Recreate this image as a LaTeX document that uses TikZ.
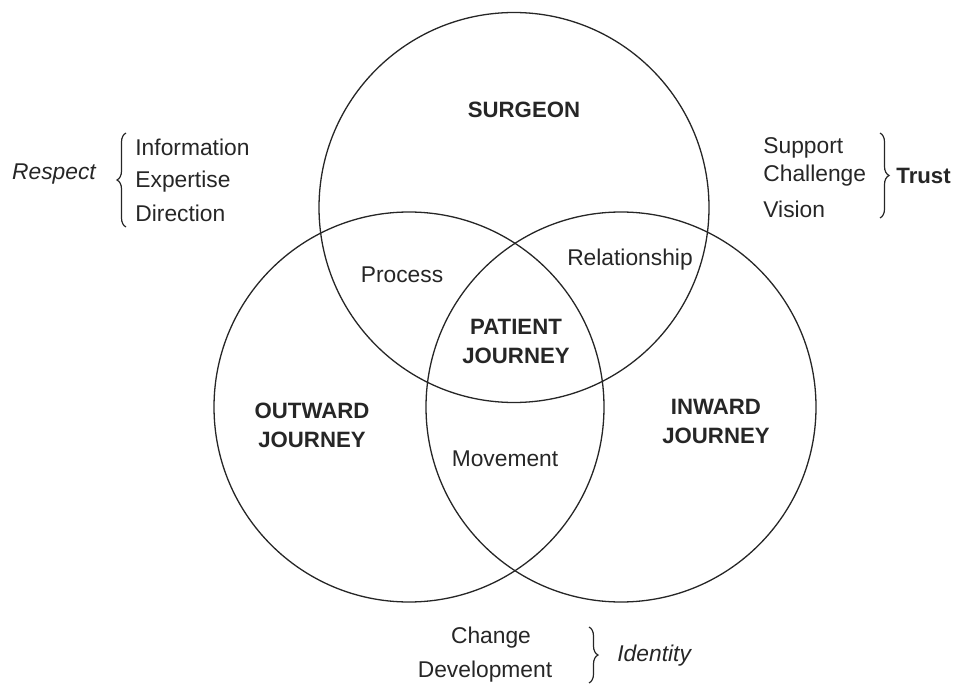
\documentclass[tikz,border=0pt]{standalone}
\usepackage{fontspec}
\setmainfont{Liberation Sans}
\usetikzlibrary{decorations.pathreplacing}
\begin{document}
\begin{tikzpicture}[x=0.5pt,y=-0.5pt,
  ring/.style={draw=black!85,line width=0.65pt},
  lbl/.style={font=\fontsize{11.4}{13}\selectfont,text=black!85,inner sep=0pt},
  blbl/.style={font=\fontsize{11.1}{14.5}\selectfont\bfseries,text=black!85,inner sep=0pt,align=center},
  ilbl/.style={font=\fontsize{11.4}{13}\selectfont\itshape,text=black!85,inner sep=0pt},
  brc/.style={draw=black!85,line width=0.6pt,decorate,decoration={brace,amplitude=4.5pt}}]
\useasboundingbox (0,0) rectangle (963,684);
% circles
\node[ring,circle,minimum size=195pt,inner sep=0pt] (top) at (514,207.5) {};
\node[ring,circle,minimum size=195pt,inner sep=0pt] (left) at (409,407) {};
\node[ring,circle,minimum size=195pt,inner sep=0pt] (right) at (621,407) {};
% labels in circles
\node[blbl] (surgeon) at (524,110) {SURGEON};
\node[blbl] (patient) at (516,341) {PATIENT\\JOURNEY};
\node[blbl] (outward) at (312,425) {OUTWARD\\JOURNEY};
\node[blbl] (inward) at (716,421) {INWARD\\JOURNEY};
\node[lbl] (process) at (402,275) {Process};
\node[lbl] (relationship) at (630,260) {Relationship};
\node[lbl] (movement) at (505,459) {Movement};
% left group
\node[ilbl] (respect) at (54,174) {Respect};
\node[lbl,anchor=west] (information) at (135,147) {Information};
\node[lbl,anchor=west] (expertise) at (135,182) {Expertise};
\node[lbl,anchor=west] (direction) at (135,213) {Direction};
\coordinate (lb1) at (126,227);
\coordinate (lb2) at (126,133);
\draw[brc] (lb1) -- (lb2);
% right group
\node[lbl,anchor=west] (support) at (763,148) {Support};
\node[lbl,anchor=west] (challenge) at (763,176) {Challenge};
\node[lbl,anchor=west] (vision) at (763,209) {Vision};
\coordinate (rb1) at (880,133);
\coordinate (rb2) at (880,218);
\draw[brc] (rb1) -- (rb2);
\node[blbl,anchor=west] (trust) at (896,176) {Trust};
% bottom group
\node[lbl] (change) at (491,638) {Change};
\node[lbl] (development) at (485,672) {Development};
\coordinate (bb1) at (589,627);
\coordinate (bb2) at (589,683);
\draw[brc] (bb1) -- (bb2);
\node[ilbl,anchor=west] (identity) at (617,656) {Identity};
\end{tikzpicture}
\end{document}
